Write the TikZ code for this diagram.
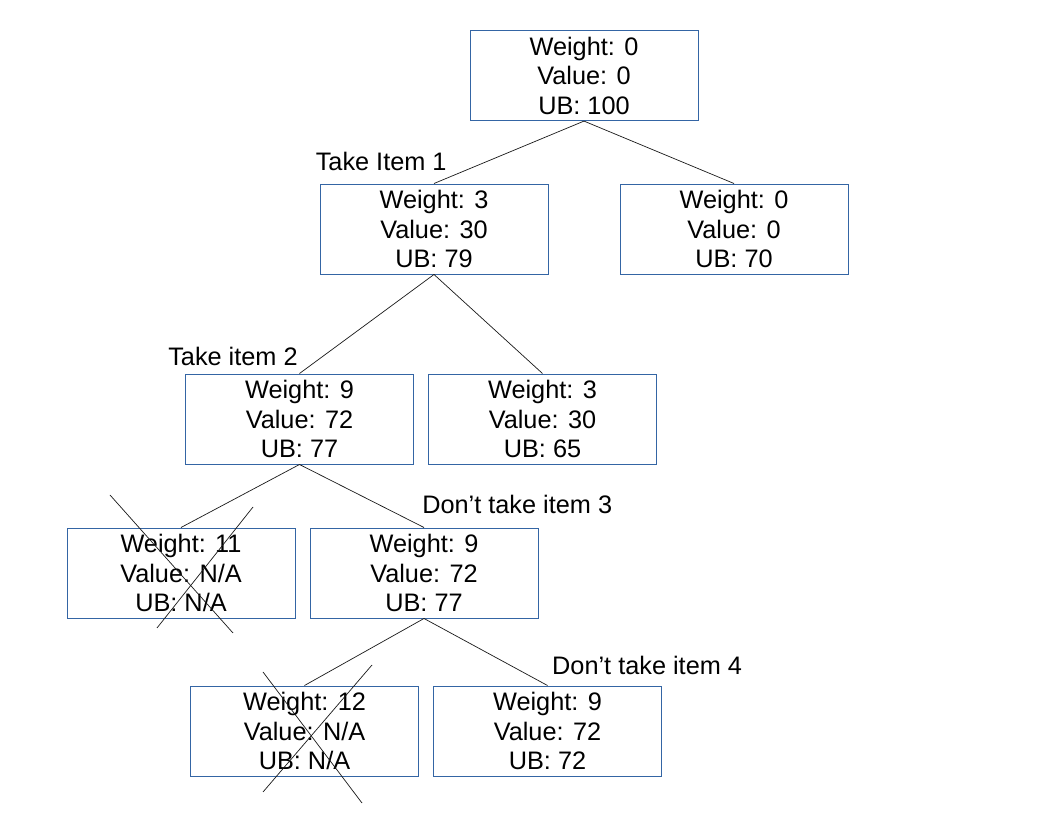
\documentclass[tikz,border=0pt]{standalone}
\usepackage{fontspec}
\setmainfont{Liberation Sans}
\usetikzlibrary{calc, positioning}
\definecolor{boxBlue}{HTML}{3465A4}
\definecolor{mainBlack}{gray}{0.1}
\tikzset{
    stateBox/.style={draw=boxBlue, line width=0.7pt, minimum width=5.7cm, minimum height=2.25cm,
        inner sep=0pt, align=center, font=\fontsize{18}{21}\selectfont},
    choiceLabel/.style={anchor=base west, inner sep=0pt, font=\fontsize{18}{21}\selectfont},
    branch/.style={draw=mainBlack, line width=0.5pt},
    strike/.style={draw=mainBlack, line width=0.5pt}
}
\begin{document}
\begin{tikzpicture}
    \useasboundingbox (0,0) rectangle (26.4,20.4);
        % search tree
        \node[stateBox] (root) at (14.6, 18.51) {Weight: 0\\Value: 0\\UB: 100};
        \node[stateBox] (takeA) at (10.85, 14.675) {Weight: 3\\Value: 30\\UB: 79};
        \node[stateBox] (skipA) at (18.35, 14.675) {Weight: 0\\Value: 0\\UB: 70};
        \node[stateBox] (takeB) at (7.4875, 9.925) {Weight: 9\\Value: 72\\UB: 77};
        \node[stateBox] (skipB) at (13.5625, 9.925) {Weight: 3\\Value: 30\\UB: 65};
        \node[stateBox] (takeC) at (4.525, 6.075) {Weight: 11\\Value: N/A\\UB: N/A};
        \node[stateBox] (skipC) at (10.6, 6.075) {Weight: 9\\Value: 72\\UB: 77};
        \node[stateBox] (takeD) at (7.6125, 2.125) {Weight: 12\\Value: N/A\\UB: N/A};
        \node[stateBox] (skipD) at (13.6875, 2.125) {Weight: 9\\Value: 72\\UB: 72};

        \draw[branch] (root.south) -- (takeA.north);
        \draw[branch] (root.south) -- (skipA.north);
        \draw[branch] (takeA.south) -- (takeB.north);
        \draw[branch] (takeA.south) -- (skipB.north);
        \draw[branch] (takeB.south) -- (takeC.north);
        \draw[branch] (takeB.south) -- (skipC.north);
        \draw[branch] (skipC.south) -- (takeD.north);
        \draw[branch] (skipC.south) -- (skipD.north);

        % choices
        \node[choiceLabel] (labelA) at ([shift={(-0.1,0.325)}]takeA.north west) {Take Item 1};
        \node[choiceLabel] (labelB) at ([shift={(-0.425,0.2)}]takeB.north west) {Take item 2};
        \node[choiceLabel] (labelC) at ([shift={(-0.05,0.35)}]skipC.north) {Don’t take item 3};
        \node[choiceLabel] (labelD) at ([shift={(0.11,0.275)}]skipD.north) {Don’t take item 4};

        % pruned
        \draw[strike] ([shift={(-1.775,1.95)}]takeC.center) -- ([shift={(1.3,-1.5)}]takeC.center);
        \draw[strike] ([shift={(1.8,1.65)}]takeC.center) -- ([shift={(-0.6,-1.375)}]takeC.center);
        \draw[strike] ([shift={(-1.0375,1.475)}]takeD.center) -- ([shift={(1.4375,-1.8)}]takeD.center);
        \draw[strike] ([shift={(1.6875,1.65)}]takeD.center) -- ([shift={(-1.0375,-1.525)}]takeD.center);
    \end{tikzpicture}
\end{document}
